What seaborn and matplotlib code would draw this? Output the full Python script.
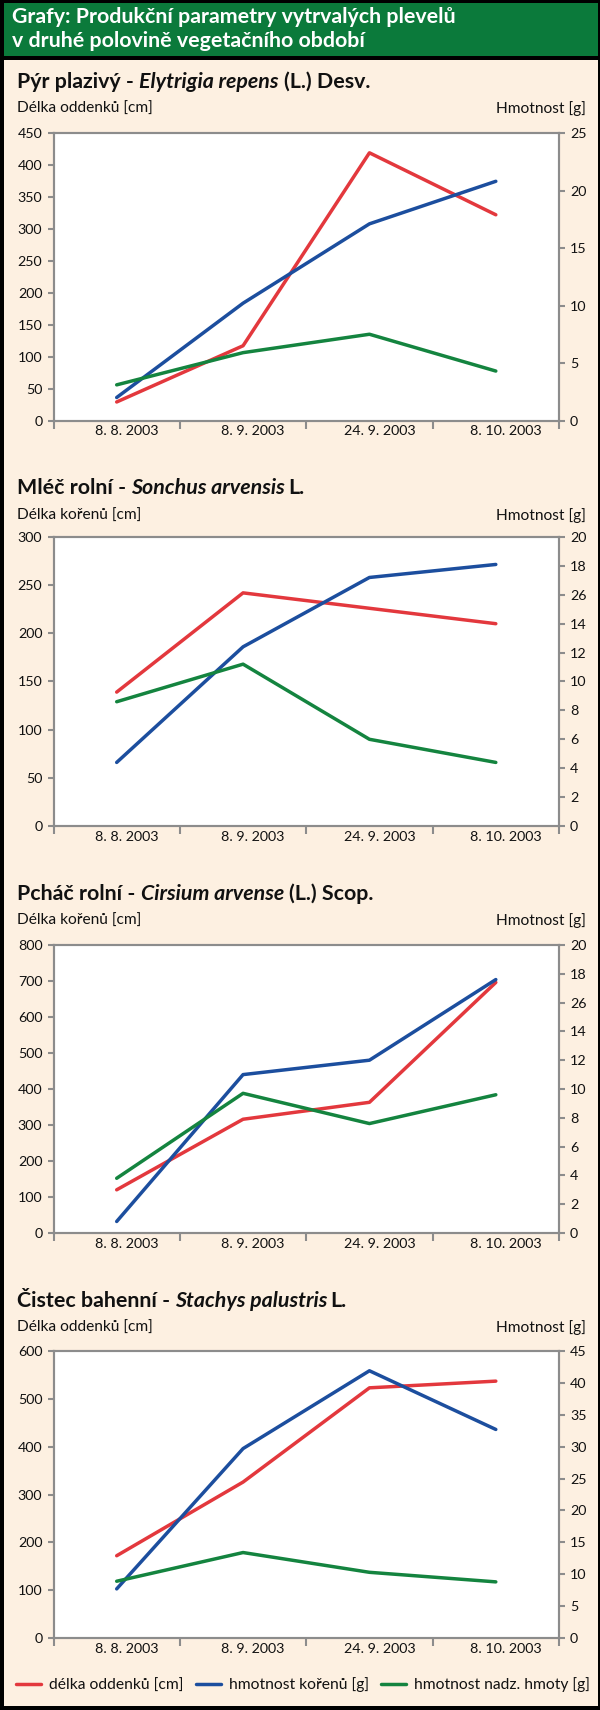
import numpy as np
import pandas as pd
import matplotlib
matplotlib.use("Agg")
import matplotlib.pyplot as plt
from matplotlib.patches import Rectangle
import seaborn as sns

# ---------------- data ----------------
dates = ["8. 8. 2003", "8. 9. 2003", "24. 9. 2003", "8. 10. 2003"]

header_lines = ["Grafy: Produkční parametry vytrvalých plevelů",
                "v druhé polovině vegetačního období"]

titles = [
    [("Pýr plazivý - ", "normal"), ("Elytrigia repens", "italic"), (" (L.) Desv.", "normal")],
    [("Mléč rolní - ", "normal"), ("Sonchus arvensis", "italic"), (" L.", "normal")],
    [("Pcháč rolní - ", "normal"), ("Cirsium arvense", "italic"), (" (L.) Scop.", "normal")],
    [("Čistec bahenní - ", "normal"), ("Stachys palustris", "italic"), (" L.", "normal")],
]
left_labels = ["Délka oddenků [cm]", "Délka kořenů [cm]", "Délka kořenů [cm]", "Délka oddenků [cm]"]
right_label = "Hmotnost [g]"

# red series (left axis) – length [cm]
delka_1 = [29, 117, 419, 322]
delka_2 = [139, 242, 226, 210]
delka_3 = [120, 316, 363, 696]
delka_4 = [172, 326, 523, 537]

# blue series (right axis) – root mass [g]
koreny_1 = [2.0, 10.2, 17.1, 20.8]
koreny_2 = [4.4, 12.4, 17.2, 18.1]
koreny_3 = [0.8, 11.0, 12.0, 17.6]
koreny_4 = [7.7, 29.7, 41.9, 32.7]

# green series (right axis) – above-ground mass [g]
nadz_1 = [3.1, 5.9, 7.5, 4.3]
nadz_2 = [8.6, 11.2, 6.0, 4.4]
nadz_3 = [3.8, 9.7, 7.6, 9.6]
nadz_4 = [8.9, 13.4, 10.3, 8.8]

left_ticks = [
    [0, 50, 100, 150, 200, 250, 300, 350, 400, 450],
    [0, 50, 100, 150, 200, 250, 300],
    [0, 100, 200, 300, 400, 500, 600, 700, 800],
    [0, 100, 200, 300, 400, 500, 600],
]
right_ticks = [
    [0, 5, 10, 15, 20, 25],
    [0, 2, 4, 6, 8, 10, 12, 14, 16, 18, 20],
    [0, 2, 4, 6, 8, 10, 12, 14, 16, 18, 20],
    [0, 5, 10, 15, 20, 25, 30, 35, 40, 45],
]
right_tick_labels = [
    ["0", "5", "10", "15", "20", "25"],
    ["0", "2", "4", "6", "8", "10", "12", "14", "26", "18", "20"],
    ["0", "2", "4", "6", "8", "10", "12", "14", "26", "18", "20"],
    ["0", "5", "10", "15", "20", "25", "30", "35", "40", "45"],
]
legend_labels = ["délka oddenků [cm]", "hmotnost kořenů [g]", "hmotnost nadz. hmoty [g]"]

delky = [delka_1, delka_2, delka_3, delka_4]
koreny = [koreny_1, koreny_2, koreny_3, koreny_4]
nadz = [nadz_1, nadz_2, nadz_3, nadz_4]

# ---------------- style ----------------
sns.set_theme(style="white")
FONT = ["Lato", "DejaVu Sans"]
plt.rcParams["font.family"] = FONT

RED = "#E3383D"
BLUE = "#1C4E9E"
GREEN = "#14843F"
CREAM = "#FDF0E1"
HEAD = "#0B7A3B"
GRAY = "#8C8C8C"
INK = "#111111"
LW = 2.5

W, H = 600, 1710
fig = plt.figure(figsize=(W / 100, H / 100), dpi=100)
fig.patch.set_facecolor("black")
renderer = fig.canvas.get_renderer()


def fx(x):
    return x / W


def fy(y):
    return 1 - y / H


def rect(x0, y0, x1, y1, color):
    fig.add_artist(Rectangle((fx(x0), fy(y1)), fx(x1) - fx(x0), (y1 - y0) / H,
                             transform=fig.transFigure, facecolor=color,
                             edgecolor="none", zorder=0))


def text_width(s, **kw):
    t = fig.text(0, 0, s, **kw)
    w = t.get_window_extent(renderer=renderer).width
    t.remove()
    return w


def fit(s, target, base=10.0, **kw):
    return base * target / text_width(s, fontsize=base, **kw)


def rich_width(pieces, size):
    kw_n = dict(fontsize=size, fontweight="bold")
    space = text_width("x x", **kw_n) - text_width("xx", **kw_n)
    total = 0
    for txt, style in pieces:
        n_sp = (len(txt) - len(txt.lstrip(" "))) + (len(txt) - len(txt.rstrip(" ")))
        total += n_sp * space + text_width(txt.strip(" "), fontsize=size,
                                           fontweight="bold", fontstyle=style)
    return total, space


def rich(x, y, pieces, size):
    _, space = rich_width(pieces, size)
    prev_italic = False
    for txt, style in pieces:
        lead = len(txt) - len(txt.lstrip(" "))
        trail = len(txt) - len(txt.rstrip(" "))
        core = txt.strip(" ")
        x += lead * space
        if prev_italic and not core.startswith("("):
            x -= 2.5
        t = fig.text(fx(x), fy(y), core, fontsize=size, fontweight="bold",
                     fontstyle=style, ha="left", va="center", color=INK)
        x += t.get_window_extent(renderer=renderer).width + trail * space
        prev_italic = style == "italic"


rect(4, 3, 598, 56, HEAD)
rect(4, 60, 598, 1706, CREAM)

# sizes fitted to the reference text widths
head_size = fit(header_lines[0], 446, fontweight="bold")
w_t, _ = rich_width(titles[0], 10.0)
title_size = 10.0 * 353 / w_t
label_size = fit(left_labels[0], 137)
tick_size = fit(dates[0], 63.3)
legend_size = fit(legend_labels[0], 135)

for i, line in enumerate(header_lines):
    fig.text(fx(12), fy(17 + 24 * i), line, color="white", fontsize=head_size,
             fontweight="bold", ha="left", va="center")

panels = [(133, 420.5, 82, 109), (537, 826, 488, 516),
          (945, 1233, 894, 921), (1351, 1638, 1301, 1328)]
AX_L, AX_R = 53.5, 559

xs = np.arange(len(dates))
last_handles = None
for p, (top, bot, ty, ly) in enumerate(panels):
    ax = fig.add_axes([fx(AX_L), fy(bot), (AX_R - AX_L) / W, (bot - top) / H])
    ax.set_facecolor("white")
    ax2 = ax.twinx()

    df = pd.DataFrame({"x": xs, "delka": delky[p], "koreny": koreny[p], "nadz": nadz[p]})
    sns.lineplot(data=df, x="x", y="delka", ax=ax, color=RED, linewidth=LW,
                 legend=False, sort=False)
    sns.lineplot(data=df, x="x", y="koreny", ax=ax2, color=BLUE, linewidth=LW,
                 legend=False, sort=False)
    sns.lineplot(data=df, x="x", y="nadz", ax=ax2, color=GREEN, linewidth=LW,
                 legend=False, sort=False)

    ax.set_xlim(-0.5, len(dates) - 0.5)
    ax.set_ylim(left_ticks[p][0], left_ticks[p][-1])
    ax2.set_ylim(right_ticks[p][0], right_ticks[p][-1])
    ax.set_yticks(left_ticks[p], [str(v) for v in left_ticks[p]])
    ax2.set_yticks(right_ticks[p], right_tick_labels[p])

    ax.set_xticks(np.arange(len(dates) + 1) - 0.5, [""] * (len(dates) + 1))
    ax.set_xticks(xs + 0.08, dates, minor=True)
    ax.tick_params(axis="x", which="major", direction="out", length=5.5, width=1.5,
                   color=GRAY, bottom=True)
    ax.tick_params(axis="x", which="minor", length=0, pad=3.5, labelsize=tick_size,
                   labelcolor=INK)
    ax.tick_params(axis="y", direction="out", length=4.5, width=1.5, color=GRAY,
                   pad=3.5, labelsize=tick_size, labelcolor=INK, left=True)
    ax2.tick_params(axis="y", direction="out", length=4.5, width=1.5, color=GRAY,
                    pad=3.5, labelsize=tick_size, labelcolor=INK, right=True)
    ax.set_xlabel("")
    ax.set_ylabel("")
    ax2.set_ylabel("")
    for a in (ax, ax2):
        for s in a.spines.values():
            s.set_color(GRAY)
            s.set_linewidth(1.5)
            s.set_visible(True)
    ax.grid(False)
    ax2.grid(False)

    rich(17, ty, titles[p], title_size)
    fig.text(fx(17), fy(ly), left_labels[p], fontsize=label_size, ha="left",
             va="center", color=INK)
    fig.text(fx(585.5), fy(ly), right_label, fontsize=label_size, ha="right",
             va="center", color=INK)
    last_handles = [ax.lines[0], ax2.lines[0], ax2.lines[1]]

fs_px = legend_size * 100 / 72
fig.legend(last_handles, legend_labels, loc="center", ncol=3,
           bbox_to_anchor=(fx(303), fy(1685)), frameon=False, fontsize=legend_size,
           handlelength=25 / fs_px, handletextpad=8 / fs_px, columnspacing=12 / fs_px,
           labelcolor=INK, borderpad=0, borderaxespad=0)

fig.savefig("out.png", dpi=100, facecolor=fig.get_facecolor())
